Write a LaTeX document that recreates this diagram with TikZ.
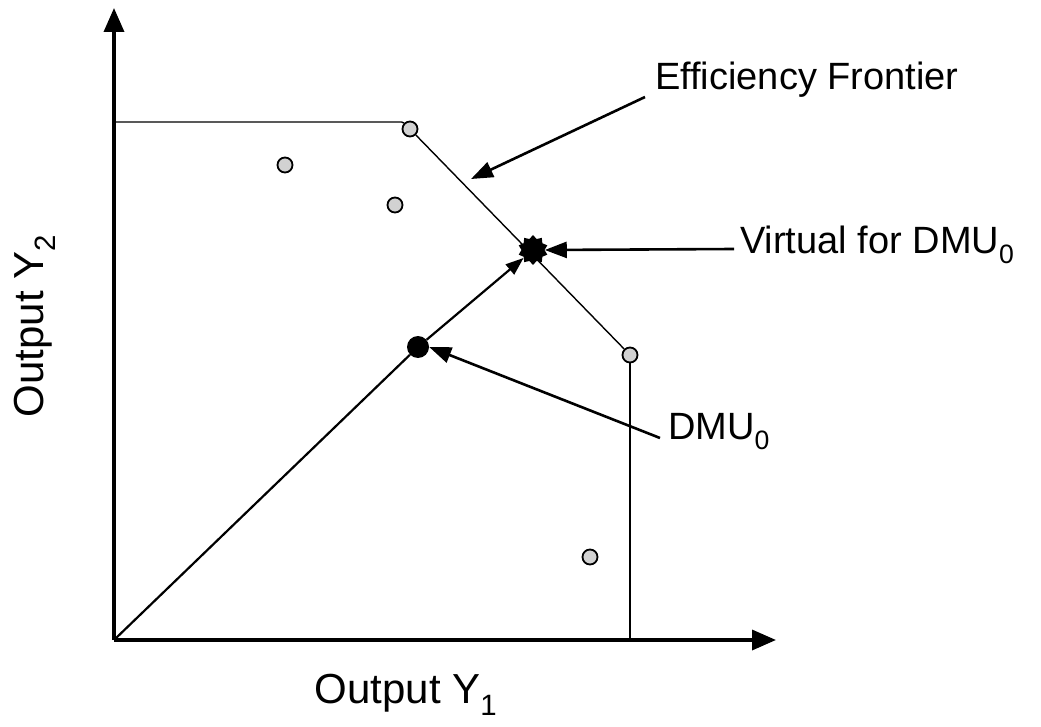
\documentclass[tikz,border=0pt]{standalone}
\usepackage{fontspec}
\setmainfont{Liberation Sans}
\usetikzlibrary{arrows.meta,shapes.geometric}
\tikzset{
  pt/.style={circle,draw=black,line width=1.8pt,fill=gray!35,minimum size=15pt,inner sep=0pt},
  dmu/.style={circle,fill=black,minimum size=22pt,inner sep=0pt},
  virt/.style={star,star points=10,star point ratio=1.3,fill=black,minimum size=30pt,inner sep=0pt},
  axis/.style={line width=3.5pt,-{Triangle[length=24pt,width=20pt]}},
  front/.style={line width=1.4pt},
  callout/.style={line width=2.6pt,-{Triangle[length=22pt,width=16pt]}},
  lbl/.style={font=\fontsize{38}{44}\selectfont,inner sep=0pt},
  axlbl/.style={font=\fontsize{42}{48}\selectfont,inner sep=0pt}
}
\begin{document}
\begin{tikzpicture}[x=1pt,y=-1pt]
\useasboundingbox (0,0) rectangle (1041,727);
\coordinate (O) at (114,640);
\coordinate (ytip) at (114,8);
\coordinate (xtip) at (776,640);
\coordinate (fl) at (114,122);
\node[pt] (p1) at (410,129) {};
\node[pt] (p2) at (630,355) {};
\node[pt] (p3) at (285,165) {};
\node[pt] (p4) at (395,205) {};
\node[pt] (p5) at (590,557) {};
\coordinate (fb) at (630,640);
\node[virt] (v) at (533,250) {};
\node[dmu] (d) at (418,347) {};
% frontier
\draw[front] (fl) -- (p1.west|-fl) -- (p1.north west);
\draw[front] (p1) -- (p2);
\draw[front] (p2.south) -- (fb);
% axes
\draw[axis] (O) -- (ytip);
\draw[axis] (O) -- (xtip);
% ray
\draw[line width=2.2pt] (O) -- (d);
\draw[line width=2.2pt,-{Triangle[length=18pt,width=13pt]}] (d) -- (v);
% labels
\node[lbl,anchor=west] (ef) at (655,80) {Efficiency Frontier};
\node[lbl,anchor=west] (vl) at (740,245) {Virtual for DMU\textsubscript{0}};
\node[lbl,anchor=west] (dl) at (668,432) {DMU\textsubscript{0}};
\node[axlbl] (xl) at (406,695) {Output Y\textsubscript{1}};
\node[axlbl,rotate=90] (yl) at (35,326) {Output Y\textsubscript{2}};
\coordinate (efa) at (645,97);
\coordinate (efb) at (471,179);
\draw[callout] (efa) -- (efb);
\draw[callout] (vl.west) ++(-6pt,-4pt) coordinate (va) -- (v.east);
\draw[callout] (dl.west) ++(-8pt,-6pt) coordinate (da) -- (d.east);
\end{tikzpicture}
\end{document}
